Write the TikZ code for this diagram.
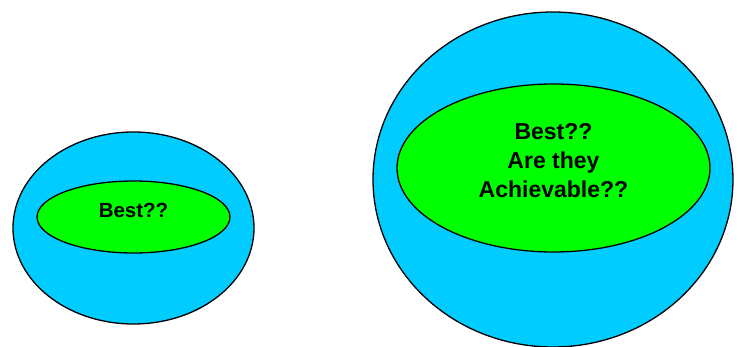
\documentclass[tikz,border=0pt]{standalone}
\usepackage{fontspec}
\setmainfont{Liberation Sans}
\definecolor{outerblue}{HTML}{00CCFF}
\definecolor{innergreen}{HTML}{00FF00}
\tikzset{
  outerset/.style={fill=outerblue, draw=black},
  innerset/.style={fill=innergreen, draw=black},
  setlabel/.style={font=\bfseries, align=center, inner sep=0pt}
}
\begin{document}
\begin{tikzpicture}[x=1pt, y=-1pt, line width=1.3pt, line join=round]
	\useasboundingbox (0,0) rectangle (740,347);
	% small pair of sets
	\filldraw[outerset] (133.5,228) coordinate (smallouter) ellipse (120.5pt and 96pt);
	\filldraw[innerset] (133.5,217) coordinate (smallinner) ellipse (96.5pt and 36pt);
	\node[setlabel, font=\bfseries\fontsize{20.5}{25}\selectfont] (smalltext) at (133.5,210) {Best??};
	% large pair of sets
	\filldraw[outerset] (553,179.5) coordinate (bigouter) ellipse (180pt and 167.5pt);
	\filldraw[innerset] (553.5,168) coordinate (biginner) ellipse (156.5pt and 84pt);
	\node[setlabel, font=\bfseries\fontsize{23}{29}\selectfont] (bigtext) at (553.5,161) {Best??\\Are they\\Achievable??};
\end{tikzpicture}
\end{document}
